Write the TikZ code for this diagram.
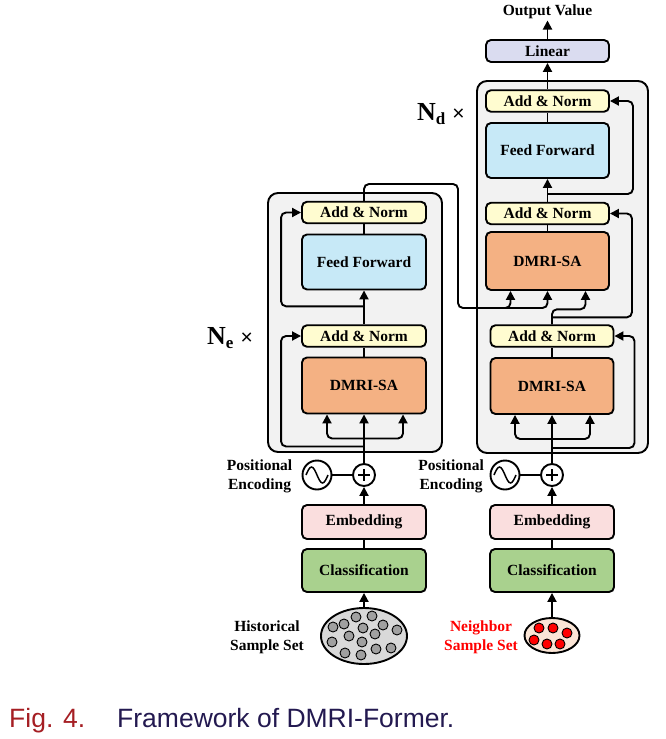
\documentclass[tikz,border=0pt]{standalone}
\usepackage{fontspec}
\setmainfont{Liberation Serif}
\setsansfont{Liberation Sans}
\usepackage{tikz}
\usetikzlibrary{
  calc,             % offsets along the wires
  arrows.meta,      % filled arrow heads
  shapes.geometric  % sample-set ellipses
}

\definecolor{normcol}{RGB}{255,252,208}
\definecolor{ffcol}{RGB}{199,233,247}
\definecolor{sacol}{RGB}{244,177,131}
\definecolor{lincol}{RGB}{218,220,240}
\definecolor{embcol}{RGB}{250,222,222}
\definecolor{clscol}{RGB}{169,209,142}
\definecolor{layercol}{RGB}{242,242,242}
\definecolor{histcol}{RGB}{217,217,217}
\definecolor{dotcol}{RGB}{160,160,160}
\definecolor{nbrcol}{RGB}{251,229,214}
\definecolor{figred}{RGB}{165,30,35}
\definecolor{capcol}{RGB}{35,25,80}

\newcommand{\blktxt}{\fontsize{15.5}{19}\selectfont\bfseries}

\begin{document}
\begin{tikzpicture}[x=1pt, y=-1pt,
  wire/.style={line width=1.9pt},
  arr/.style={wire, -{Triangle[length=9pt,width=9pt]}},
  rc/.style={rounded corners=5pt},
  blk/.style={draw, line width=1.9pt, rounded corners=5pt, inner sep=0pt, minimum width=124pt, font=\blktxt},
  norm/.style={blk, fill=normcol, minimum height=21.5pt},
  ffn/.style={blk, fill=ffcol, minimum height=55pt},
  dmri/.style={blk, fill=sacol, minimum height=56pt},
  layer/.style={draw, line width=1.9pt, fill=layercol, rounded corners=10pt},
  ring/.style={draw, circle, line width=1.9pt, fill=white, inner sep=0pt},
  lbl/.style={font=\blktxt, align=center, inner sep=0pt},
  dot/.style={draw, circle, line width=0.9pt, inner sep=0pt, minimum size=10pt}
]
    \useasboundingbox (0,0) rectangle (666,739);

    % Encoder layer
    \draw[layer] (268,193) rectangle (442,452);
    \node[norm] (encAN2) at (364,212.5) {Add \& Norm};
    \node[ffn] (encFF) at (364,262) {Feed Forward};
    \node[norm] (encAN1) at (364,336) {Add \& Norm};
    \node[dmri] (encSA) at (364,385.5) {DMRI-SA};

    % Decoder layer
    \draw[layer] (477,81) rectangle (648,453);
    \node[blk, fill=lincol, minimum height=22pt, minimum width=123pt] (linear) at (547.5,51) {Linear};
    \node[norm, minimum width=123pt] (decAN3) at (547.5,101) {Add \& Norm};
    \node[ffn, minimum width=123pt] (decFF) at (547.5,150.5) {Feed Forward};
    \node[norm, minimum width=123pt] (decAN2) at (547.5,213.5) {Add \& Norm};
    \node[dmri, minimum width=123pt, minimum height=58pt] (decSA2) at (547.5,261) {DMRI-SA};
    \node[norm, minimum width=123pt] (decAN1) at (552,336) {Add \& Norm};
    \node[dmri, minimum width=123pt] (decSA1) at (552,386) {DMRI-SA};
    \node[lbl, anchor=base, inner sep=2pt] (out) at (547.5,15) {Output Value};

    % Repeat counts
    \node[anchor=base west, inner sep=0pt] (encN) at (207,344)
      {\fontsize{26}{26}\selectfont\bfseries N\raisebox{-4pt}{\fontsize{17}{17}\selectfont e}\hspace{7pt}\mdseries\sffamily\fontsize{21}{21}\selectfont ×};
    \node[anchor=base west, inner sep=0pt] (decN) at (417,120)
      {\fontsize{26}{26}\selectfont\bfseries N\raisebox{-4pt}{\fontsize{17}{17}\selectfont d}\hspace{7pt}\mdseries\sffamily\fontsize{21}{21}\selectfont ×};

    % Encoder input
    \node[ring, minimum size=22pt] (encPlus) at (364,475) {};
    \node[ring, minimum size=29pt] (encSin) at (317,475) {};
    \node[lbl, anchor=east] (encPE) at (292.5,476) {Positional\\Encoding};
    \node[blk, fill=embcol, minimum height=34pt] (encEmb) at (364,522) {Embedding};
    \node[blk, fill=clscol, minimum height=43pt] (encCls) at (364,570.5) {Classification};
    \node[ellipse, draw, line width=1.9pt, fill=histcol, minimum width=86pt, minimum height=56pt, inner sep=0pt] (hist) at (364,636) {};
    \foreach \px/\py in {356/617, 372/616, 333/627, 344/624, 363/628, 383/625, 397/630,
                         349/636, 375/634, 332/642, 362/642, 391/648, 345/653, 361/655, 376/649}
      \node[dot, fill=dotcol] at (\px,\py) {};
    \node[lbl] (histTxt) at (267,637) {Historical\\Sample Set};

    % Decoder input
    \node[ring, minimum size=22pt] (decPlus) at (552,475) {};
    \node[ring, minimum size=29pt] (decSin) at (505,475) {};
    \node[lbl, anchor=east] (decPE) at (484,476) {Positional\\Encoding};
    \node[blk, fill=embcol, minimum height=34pt] (decEmb) at (552,522) {Embedding};
    \node[blk, fill=clscol, minimum height=43pt] (decCls) at (552,570.5) {Classification};
    \node[ellipse, draw, line width=1.9pt, fill=nbrcol, minimum width=55pt, minimum height=35pt, inner sep=0pt] (nbr) at (552,635.5) {};
    \foreach \px/\py in {539/628, 553/628, 567/633, 534/640, 547/644, 560/644}
      \node[dot, fill=red] at (\px,\py) {};
    \node[lbl, text=red] (nbrTxt) at (481,637) {Neighbor\\Sample Set};

    % Sine and plus glyphs
    \foreach \s in {encSin, decSin}
      \draw[line width=1.5pt] ($(\s.center)+(-11,0)$) sin ++(5.5,-8) cos ++(5.5,8) sin ++(5.5,8) cos ++(5.5,-8);
    \foreach \p in {encPlus, decPlus}
      \draw[wire] ($(\p.center)+(-6,0)$) -- ($(\p.center)+(6,0)$) ($(\p.center)+(0,-6)$) -- ($(\p.center)+(0,6)$);

    % Encoder wires
    \draw[arr] (hist) -- (encCls);
    \draw[wire] (encCls) -- (encEmb);
    \draw[arr] (encEmb) -- (encPlus);
    \draw[wire] (encSin) -- (encPlus);
    \draw[arr] (encPlus) -- (encSA);
    \draw[arr, rc] ($(encSA.south)+(0,24)$) -| ($(encSA.south)+(-37,0)$);
    \draw[arr, rc] ($(encSA.south)+(0,24)$) -| ($(encSA.south)+(39,0)$);
    \draw[arr, rc] ($(encSA.south)+(0,32)$) -| ($(encAN1.west)+(-20,0)$) -- (encAN1.west);
    \draw[wire] (encSA) -- (encAN1);
    \draw[arr] (encAN1) -- (encFF);
    \draw[arr, rc] ($(encAN1.north)+(0,-18)$) -| ($(encAN2.west)+(-20,0)$) -- (encAN2.west);
    \draw[wire] (encFF) -- (encAN2);

    % Encoder output into decoder
    \coordinate (encTurn) at (458,184);
    \coordinate (encDrop) at (458,308);
    \draw[arr, rc] (encAN2.north) |- (encTurn) -- (encDrop) -| (decSA2.south);
    \draw[arr, rc] ($(encDrop)+(30,0)$) -| ($(decSA2.south)+(-37,0)$);

    % Decoder wires
    \draw[arr] (nbr) -- (decCls);
    \draw[wire] (decCls) -- (decEmb);
    \draw[arr] (decEmb) -- (decPlus);
    \draw[wire] (decSin) -- (decPlus);
    \draw[arr] (decPlus) -- (decSA1);
    \draw[arr, rc] ($(decSA1.south)+(0,24)$) -| ($(decSA1.south)+(-37,0)$);
    \draw[arr, rc] ($(decSA1.south)+(0,24)$) -| ($(decSA1.south)+(38,0)$);
    \draw[arr, rc] ($(decSA1.south)+(0,33)$) -| ($(decAN1.east)+(20,0)$) -- (decAN1.east);
    \draw[wire] (decSA1) -- (decAN1);
    \draw[arr, rc] (decAN1.north) -- ++(0,-15) -| ($(decSA2.south)+(38,0)$);
    \draw[arr, rc] ($(decAN1.north)+(0,-7)$) -| ($(decAN2.east)+(22,0)$) -- (decAN2.east);
    \draw[wire] (decSA2) -- (decAN2);
    \draw[arr] (decAN2) -- (decFF);
    \draw[arr, rc] ($(decFF.south)+(0,15)$) -| ($(decAN3.east)+(23,0)$) -- (decAN3.east);
    \draw[wire] (decFF) -- (decAN3);
    \draw[arr] (decAN3) -- (linear);
    \draw[arr] (linear) -- (out);

    % Caption
    \node[anchor=base west, inner sep=0pt, font=\sffamily\fontsize{26.5}{30}\selectfont, text=figred] (figNum) at (9,727) {Fig. 4.};
    \node[anchor=base west, inner sep=0pt, font=\sffamily\fontsize{26.5}{30}\selectfont, text=capcol] (figCap) at (117,727) {Framework of DMRI-Former.};
\end{tikzpicture}
\end{document}
